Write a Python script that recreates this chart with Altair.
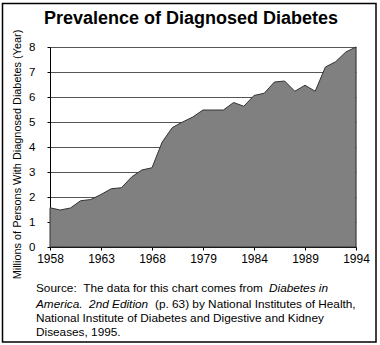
import altair as alt
import pandas as pd

years = ["1958", "1959", "1960", "1961", "1962", "1963", "1964", "1965", "1966", "1967",
         "1968", "1973", "1975", "1976", "1978", "1979", "1980", "1981", "1982", "1983",
         "1984", "1985", "1986", "1987", "1988", "1989", "1990", "1991", "1992", "1993", "1994"]
millions = [1.57, 1.48, 1.56, 1.85, 1.90, 2.10, 2.33, 2.37, 2.80, 3.08,
            3.17, 4.20, 4.78, 5.00, 5.20, 5.48, 5.48, 5.48, 5.78, 5.63,
            6.06, 6.15, 6.60, 6.64, 6.23, 6.47, 6.23, 7.20, 7.41, 7.80, 8.00]
x_tick_labels = ["1958", "1963", "1968", "1979", "1984", "1989", "1994"]
y_ticks = [0, 1, 2, 3, 4, 5, 6, 7, 8]

NB = "\u00a0"
title_text = "Prevalence of Diagnosed Diabetes"
y_title = "Millions of Persons With Diagnosed Diabetes (Year)"
src1a = "Source:" + NB + NB + "The data for this chart comes from"
src1b = "Diabetes in"
src2a = "America." + NB + NB + "2nd Edition"
src2b = "(p. 63) by National Institutes of Health,"
src3 = "National Institute of Diabetes and Digestive and Kidney"
src4 = "Diseases, 1995."

FONT = "Liberation Sans"
df = pd.DataFrame({"year": years, "value": millions})

area = alt.Chart(df).mark_area(
    color="#808080", stroke="#333333", strokeWidth=1, opacity=1
).encode(
    x=alt.X("year:N", sort=years,
            scale=alt.Scale(type="point", padding=0),
            axis=alt.Axis(values=x_tick_labels, title=None, labelAngle=0,
                          grid=False, domainColor="black", tickColor="black",
                          tickSize=3, labelPadding=3, labelFontSize=12,
                          labelColor="black", labelFont=FONT)),
    y=alt.Y("value:Q", scale=alt.Scale(domain=[0, 8], nice=False),
            axis=alt.Axis(values=y_ticks, title=y_title, grid=True,
                          gridColor="#555555", gridOpacity=1, gridWidth=1,
                          domainColor="black", tickColor="black", tickSize=3,
                          labelPadding=12, labelFontSize=11.5, labelColor="black",
                          labelFont=FONT, titleFont=FONT, titleFontSize=10.9,
                          titleFontWeight="normal", titleColor="black",
                          titleX=-33, titleY=107, titleAngle=270,
                          titleAlign="center", titleBaseline="middle")),
)

def txt(s, x, y, size=11.8, weight="normal", style="normal", align="left"):
    return alt.Chart(pd.DataFrame({"t": [s]})).mark_text(
        align=align, baseline="alphabetic", font=FONT, fontSize=size,
        fontWeight=weight, fontStyle=style, color="black"
    ).encode(text="t:N", x=alt.value(x), y=alt.value(y))

frame = alt.Chart(pd.DataFrame({"a": [0]})).mark_rect(
    fill=None, stroke="black", strokeWidth=1.5
).encode(x=alt.value(-47.5), x2=alt.value(326), y=alt.value(-43.5), y2=alt.value(295))

chart = alt.layer(
    area,
    txt(title_text, 141, -23, size=18, weight="bold", align="center"),
    txt(src1a, -14, 245),
    txt(src1b, 219, 245, style="italic"),
    txt(src2a, -14, 261, style="italic"),
    txt(src2b, 105, 261),
    txt(src3, -14, 275),
    txt(src4, -14, 289),
    frame,
).properties(
    width=306, height=200,
    autosize=alt.AutoSizeParams(type="none"),
    padding={"left": 50, "top": 47, "right": 24, "bottom": 98},
).configure_view(strokeWidth=0).configure(background="white")

chart.save("out.html", embed_options={"renderer": "svg", "actions": False})
